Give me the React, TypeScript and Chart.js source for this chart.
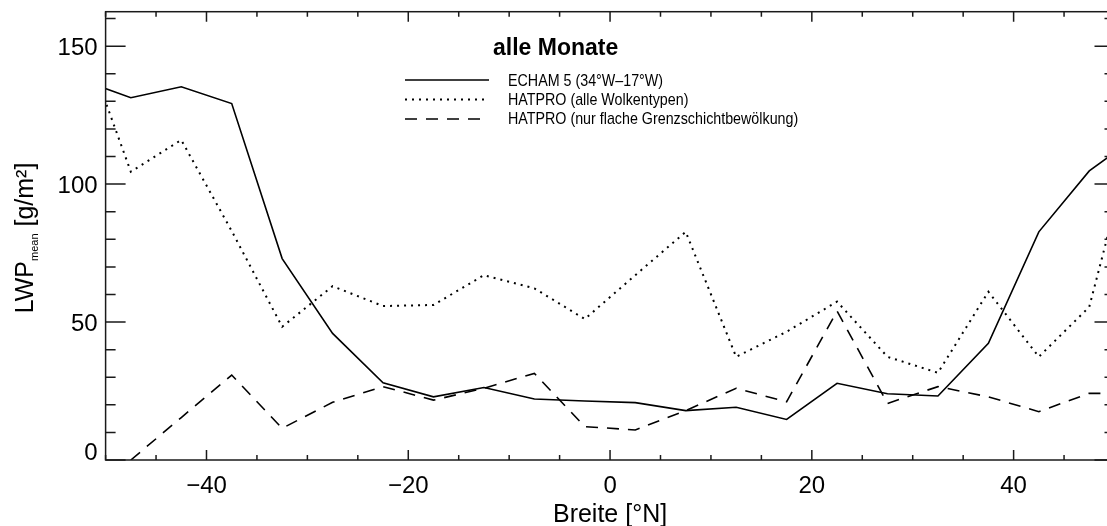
import React, { useEffect, useRef } from "react";
import { Chart, registerables } from "chart.js";

Chart.register(...registerables);

// ---- data (latitude bin centres, °N) ----
const latitudes = [-52.5, -47.5, -42.5, -37.5, -32.5, -27.5, -22.5, -17.5, -12.5, -7.5, -2.5, 2.5, 7.5, 12.5, 17.5, 22.5, 27.5, 32.5, 37.5, 42.5, 47.5, 52.5];
const echam = [138, 131.3, 135.3, 129.2, 73, 45.9, 28, 22.9, 26.3, 22.1, 21.4, 20.8, 17.9, 19.1, 14.7, 27.8, 24, 23.2, 42.3, 82.7, 104.8, 118];
const hatproAll = [155, 104.5, 116, 83, 48.3, 63, 55.8, 56.2, 67, 62.2, 51.1, 67, 82.7, 37.4, 46.5, 57.4, 37.4, 31.6, 61, 37.4, 55.5, 126];
const hatproShallow = [null, 0, 15.4, 30.8, 11.5, 20.9, 26.6, 21.7, 26, 31.4, 12.1, 10.9, 17.9, 26, 21.1, 54, 20.5, 26.6, 22.9, 17.5, 24.2, 24];

const seriesLabels = [
  "ECHAM 5 (34°W–17°W)",
  "HATPRO (alle Wolkentypen)",
  "HATPRO (nur flache Grenzschichtbewölkung)",
];
const legendTitle = "alle Monate";
const xTickLabels = [-40, -20, 0, 20, 40];
const yTickLabels = [0, 50, 100, 150];
const xTitle = "Breite [°N]";
const yTitleMain = "LWP";
const yTitleSub = "mean";
const yTitleUnit = " [g/m²]";

const W = 1140;
const H = 526;
const FONT = '"Liberation Sans", Arial, Helvetica, sans-serif';

const fmt = (v: number) => (v < 0 ? "\u2212" + Math.abs(v) : String(v));

const framePlugin = {
  id: "frame",
  afterDatasetsDraw(chart: any) {
    const { ctx, chartArea: a, scales } = chart;
    const xs = scales.x;
    const ys = scales.y;
    ctx.save();
    ctx.strokeStyle = "#1a1a1a";
    ctx.lineWidth = 1.5;
    ctx.setLineDash([]);
    ctx.strokeRect(a.left, a.top, a.right - a.left, a.bottom - a.top);
    ctx.beginPath();
    for (let v = -50; v <= 50; v += 5) {
      const px = xs.getPixelForValue(v);
      const len = v % 20 === 0 ? 10 : 5;
      ctx.moveTo(px, a.bottom);
      ctx.lineTo(px, a.bottom - len);
      ctx.moveTo(px, a.top);
      ctx.lineTo(px, a.top + len);
    }
    for (let v = 0; v <= 160; v += 10) {
      const py = ys.getPixelForValue(v);
      const len = v % 50 === 0 ? 20 : 10;
      ctx.moveTo(a.left, py);
      ctx.lineTo(a.left + len, py);
      ctx.moveTo(a.right, py);
      ctx.lineTo(a.right - len, py);
    }
    ctx.stroke();

    // tick labels
    ctx.fillStyle = "#000";
    ctx.font = `24px ${FONT}`;
    ctx.textBaseline = "alphabetic";
    ctx.textAlign = "center";
    for (const v of xTickLabels) {
      ctx.fillText(fmt(v), xs.getPixelForValue(v), 493);
    }
    ctx.textAlign = "right";
    for (const v of yTickLabels) {
      const py = ys.getPixelForValue(v);
      ctx.fillText(fmt(v), a.left - 8, v === 0 ? a.bottom : py + 9.3);
    }

    // x title
    ctx.textAlign = "center";
    ctx.font = `25px ${FONT}`;
    ctx.fillText(xTitle, (a.left + a.right) / 2, 521.5);

    // y title (rotated)
    ctx.save();
    ctx.translate(33.3, 313.3);
    ctx.rotate(-Math.PI / 2);
    ctx.textAlign = "left";
    ctx.font = `25px ${FONT}`;
    ctx.fillText(yTitleMain, 0, 0);
    let off = ctx.measureText(yTitleMain).width;
    ctx.font = `11px ${FONT}`;
    ctx.fillText(yTitleSub, off, 5);
    off += ctx.measureText(yTitleSub).width;
    ctx.font = `25px ${FONT}`;
    ctx.fillText(yTitleUnit, off, 0);
    ctx.restore();

    // legend
    ctx.textAlign = "left";
    ctx.font = `bold 23px ${FONT}`;
    ctx.fillText(legendTitle, 493, 55);
    chart.data.datasets.forEach((ds: any, i: number) => {
      const ly = 80 + i * 19.5;
      ctx.save();
      ctx.strokeStyle = "#000";
      ctx.lineWidth = ds.borderWidth;
      ctx.setLineDash(ds.borderDash || []);
      ctx.beginPath();
      ctx.moveTo(405, ly);
      ctx.lineTo(489, ly);
      ctx.stroke();
      ctx.restore();
      ctx.save();
      ctx.translate(508, 86 + i * 18.8);
      ctx.scale(0.84, 1);
      ctx.font = `17px ${FONT}`;
      ctx.fillStyle = "#000";
      ctx.fillText(ds.label, 0, 0);
      ctx.restore();
    });
    ctx.restore();
  },
};

export default function App() {
  const ref = useRef<HTMLCanvasElement | null>(null);

  useEffect(() => {
    if (!ref.current) return;
    const mk = (vals: (number | null)[]) => latitudes.map((x, i) => ({ x, y: vals[i] }));
    const base = {
      borderColor: "#000",
      borderWidth: 1.6,
      pointRadius: 0,
      fill: false,
      tension: 0,
      clip: 0,
      spanGaps: false,
    };
    const chart = new Chart(ref.current, {
      type: "line",
      data: {
        datasets: [
          { ...base, label: seriesLabels[0], data: mk(echam) },
          { ...base, label: seriesLabels[1], data: mk(hatproAll), borderDash: [2, 5], borderWidth: 2 },
          { ...base, label: seriesLabels[2], data: mk(hatproShallow), borderDash: [12, 9] },
        ],
      } as any,
      options: {
        animation: false,
        responsive: false,
        devicePixelRatio: 1,
        layout: { padding: { left: 105.6, top: 11.7, right: W - 1114.5, bottom: H - 460 } },
        plugins: { legend: { display: false }, tooltip: { enabled: false } },
        scales: {
          x: { type: "linear", min: -50, max: 50, display: false },
          y: { type: "linear", min: 0, max: 162.5, display: false },
        },
      } as any,
      plugins: [framePlugin],
    });
    return () => chart.destroy();
  }, []);

  return (
    <div style={{ position: "fixed", left: 0, top: 0, width: 1107, height: 526, overflow: "hidden", background: "#fff" }}>
      <canvas ref={ref} width={W} height={H} style={{ display: "block" }} />
    </div>
  );
}
